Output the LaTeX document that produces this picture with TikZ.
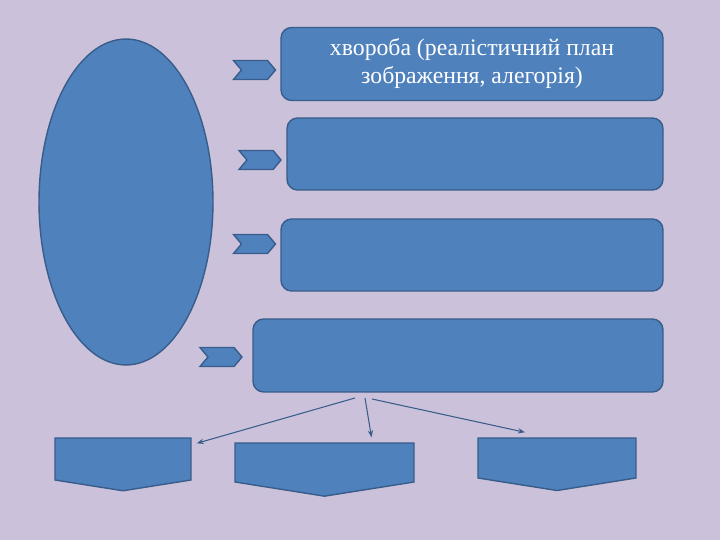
\documentclass[tikz,border=0pt]{standalone}
\usepackage{fontspec}
\setmainfont{Liberation Serif}
\usetikzlibrary{arrows.meta,positioning,shapes.geometric,shapes.symbols}
\definecolor{bgviolet}{RGB}{204,193,218}
\definecolor{boxblue}{RGB}{79,129,189}
\definecolor{edgeblue}{RGB}{56,93,138}
\begin{document}
\begin{tikzpicture}[%
    x=0.02cm, y=-0.02cm,        % one unit = one pixel of the slide
    >={Stealth[length=4pt,width=3pt]},
    node distance=0.1cm,
    ]

\tikzset{
    base/.style={draw=edgeblue, fill=boxblue, line width=0.8pt, align=center, text=white},
    oval/.style={base, ellipse, minimum width=3.48cm, minimum height=6.52cm},
    card/.style={base, rectangle, rounded corners=6pt, minimum height=1.46cm, font={\fontsize{13.5}{16}\selectfont}},
    chev/.style={base, signal, signal from=west, signal to=east, signal pointer angle=100,
        minimum width=0.84cm, minimum height=0.38cm, inner sep=0pt},
    pent/.style={base, signal, signal to=south, signal pointer angle=162, inner sep=0pt},
    link/.style={->, edgeblue, line width=0.6pt},
}

\fill[bgviolet] (0,0) rectangle (720,540);
\useasboundingbox (0,0) rectangle (720,540);

%% left part
\node [oval] (theme) at (126,202) {};

%% cards on the right
\node [card, minimum width=7.64cm] (illness) at (472,64)
    {\raisebox{-1.8pt}{\begin{tabular}{@{}c@{}}хвороба (реалістичний план\\зображення, алегорія)\end{tabular}}};
\node [card, minimum width=7.52cm, minimum height=1.44cm] (card2) at (475,154) {};
\node [card, minimum width=7.64cm, minimum height=1.44cm] (card3) at (472,255) {};
\node [card, minimum width=8.2cm] (card4) at (458,355.5) {};

%% chevrons
\node [chev] (chev1) at (254.5,70) {};
\node [chev] (chev2) at (260,160) {};
\node [chev] (chev3) at (254.5,244) {};
\node [chev] (chev4) at (221,357) {};

%% bottom shapes
\node [pent, minimum width=2.72cm, minimum height=0.84cm] (leaf1) at (123,459) {};
\node [pent, minimum width=3.58cm, minimum height=0.78cm] (leaf2) at (324.5,462.5) {};
\node [pent, minimum width=3.16cm, minimum height=0.8cm] (leaf3) at (557,458) {};

\coordinate (fork1) at (355,398);
\coordinate (fork2) at (365,398);
\coordinate (fork3) at (372,399);
    \draw[link] (fork1) -- ([xshift=0.1cm,yshift=-0.12cm]leaf1.north east);
    \draw[link] (fork2) -- ([xshift=0.94cm,yshift=0.1cm]leaf2.north);
    \draw[link] (fork3) -- ([xshift=-0.64cm,yshift=0.1cm]leaf3.north);
\end{tikzpicture}
\end{document}
